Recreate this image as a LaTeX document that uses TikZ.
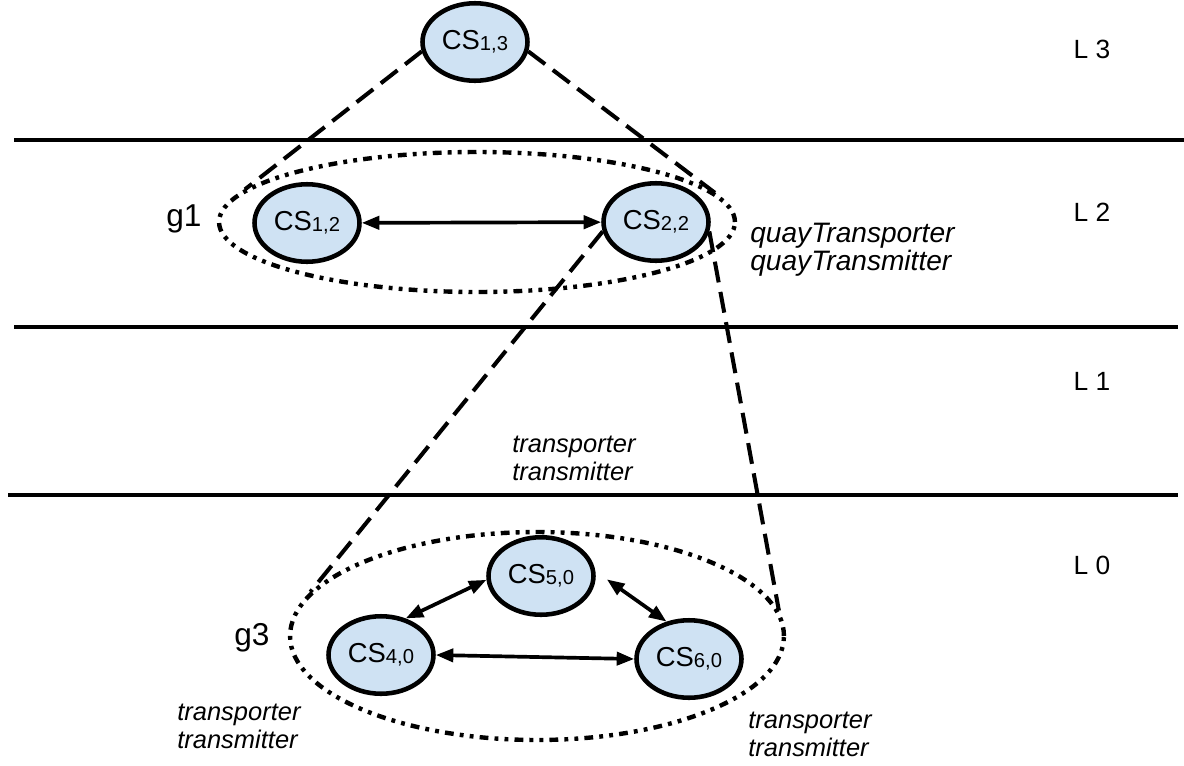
\documentclass[tikz,border=0pt]{standalone}
\usepackage{fontspec}
\setmainfont{Liberation Sans}
\usetikzlibrary{shapes.geometric,arrows.meta}
\definecolor{csblue}{RGB}{207,226,243}
\newcommand{\csl}[1]{CS\raisebox{-0.5pt}{\fontsize{11.5}{12}\selectfont #1}}

\begin{document}
\begin{tikzpicture}[x=0.02cm,y=-0.02cm,
  cs/.style={ellipse,draw,line width=2.6pt,fill=csblue,minimum width=2.1cm,minimum height=1.55cm,inner sep=0pt,font=\fontsize{15.6}{18}\selectfont},
  grp/.style={ellipse,draw,line width=2.5pt,dash pattern=on 5pt off 3.5pt on 2.2pt off 3.5pt on 2.2pt off 3.5pt,inner sep=0pt},
  cone/.style={line width=2.3pt,dash pattern=on 12pt off 5.5pt},
  link/.style={{Triangle[length=10pt,width=7.5pt]}-{Triangle[length=10pt,width=7.5pt]},line width=2.1pt},
  role/.style={font=\fontsize{14.5}{16}\selectfont\itshape,align=left,inner sep=0pt}]
\useasboundingbox (0,0) rectangle (1184,765);

% Layer separators
\foreach \y/\xa/\xb in {140/14/1184,327/14/1178,495/8/1178}
{
    \draw[line width=2.8pt] (\xa,\y) -- (\xb,\y);
}
\foreach \y/\l in {49/3,212/2,381/1,565/0}
{
    \node[font=\fontsize{15}{18}\selectfont] (lay\l) at (1092,\y) {L\ \l};
}

% Groups
\node[grp,minimum width=10.32cm,minimum height=2.8cm] (g1) at (477,222) {};
\node[grp,minimum width=9.88cm,minimum height=4.16cm] (g3) at (537,636) {};
\node[font=\fontsize{18}{20}\selectfont] (g1lab) at (184,219) {g1};
\node[font=\fontsize{18}{20}\selectfont] (g3lab) at (252,638) {g3};

% Nodes
\node[cs] (cs13) at (475,42) {\csl{1,3}};
\node[cs] (cs12) at (307,223) {\csl{1,2}};
\node[cs] (cs22) at (656,222) {\csl{2,2}};
\node[cs] (cs50) at (541,576) {\csl{5,0}};
\node[cs] (cs40) at (381,655) {\csl{4,0}};
\node[cs] (cs60) at (689,659) {\csl{6,0}};

% Zoom lines
\draw[cone] (cs13.190) -- (g1.172);
\draw[cone] (cs13.-10) -- (g1.7);
\draw[cone] (cs22.190) -- (g3.169);
\draw[cone] (cs22.-10) -- (g3.6);

% Links
\draw[link] (cs12) -- (cs22);
\draw[link] (cs40.56) -- (cs50.184);
\draw[link,shorten <=8pt] (cs50.5) -- (cs60.121);
\draw[link] (cs40.east) -- (cs60.west);

% Roles
\node[role,anchor=west,font=\fontsize{16}{16}\selectfont\itshape] (rq) at (750,250) {quayTransporter\\quayTransmitter};
\node[role,anchor=west] (r1) at (512,458) {transporter\\transmitter};
\node[role,anchor=west] (r0a) at (177,726) {transporter\\transmitter};
\node[role,anchor=west] (r0b) at (748,734) {transporter\\transmitter};
\end{tikzpicture}
\end{document}
